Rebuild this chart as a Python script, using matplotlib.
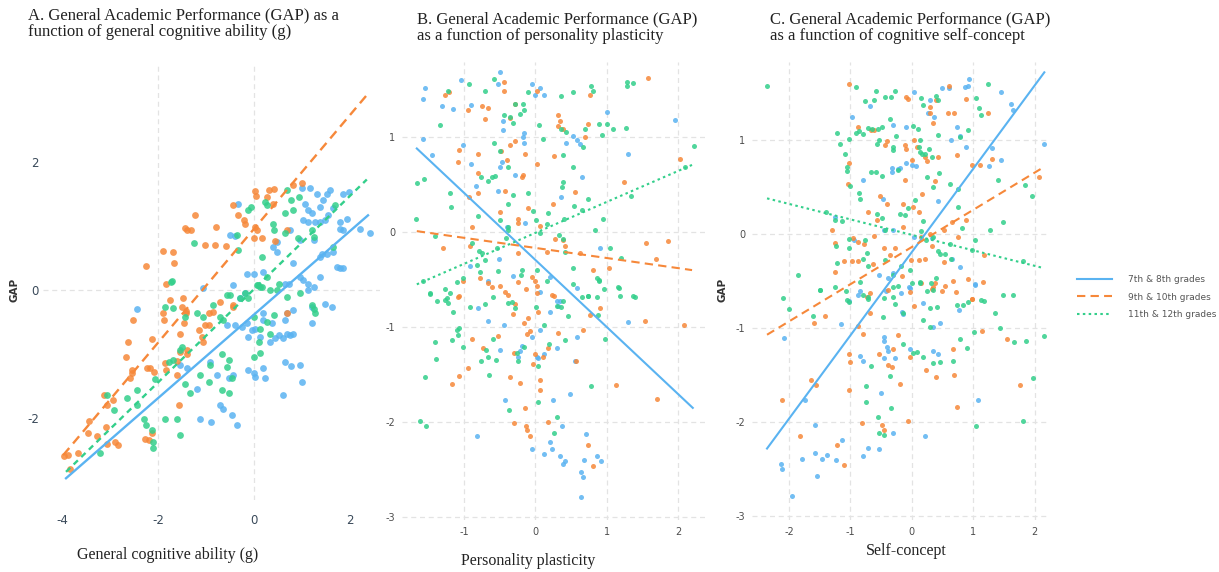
import matplotlib
matplotlib.use("Agg")
import matplotlib.pyplot as plt
from matplotlib.lines import Line2D
import numpy as np

plt.rcParams["axes.unicode_minus"] = False

# ---------------- data ----------------
groups = ["7th & 8th grades", "9th & 10th grades", "11th & 12th grades"]

# Panel A: GAP vs general cognitive ability (g)
A_g78 = [(-0.33,1.35),(-0.40,0.85),(-0.50,0.86),(0.99,1.59),(1.17,1.59),(1.31,1.51),(1.51,1.51),(1.58,1.56),
         (1.86,1.51),(1.97,1.54),(1.06,1.35),(1.13,1.25),(1.20,1.20),(1.375,1.30),(1.43,1.41),(1.55,1.17),
         (1.65,1.28),(1.03,1.09),(1.13,1.07),(1.27,1.07),(1.375,1.07),(1.48,1.09),(1.79,1.07),(1.93,1.12),
         (1.79,0.96),(1.86,0.94),(2.21,0.96),(2.42,0.90),(0.75,0.94),(0.96,0.78),(1.24,0.78),(0.47,0.76),
         (0.40,0.68),(0.47,0.60),(-0.15,0.25),(-0.01,0.25),(0.19,0.29),(0.82,0.42),(0.96,0.21),(0.65,0.10),
         (0.72,0.10),(1.03,0.16),(1.13,0.10),(1.375,0.21),(1.51,0.57),(1.65,0.60),(1.72,0.36),(1.79,0.34),
         (1.86,0.34),(1.375,0.52),(1.41,0.57),(1.13,0.00),(1.24,0.05),(-1.06,0.03),
         (-2.44,-0.30),(-0.43,0.08),(-0.19,-0.05),(-0.29,-0.13),(-0.57,-0.55),(-0.40,-0.55),(-0.26,-0.57),
         (-0.15,-0.52),(-0.05,-0.625),(0.02,-0.60),(0.19,-0.36),(0.19,-0.47),(0.37,-0.52),(0.65,-0.47),
         (0.68,-0.36),(0.81,-0.31),(1.20,-0.26),(1.20,-0.52),(1.48,-0.21),(1.62,-0.26),(-0.12,-0.73),
         (0.125,-0.73),(0.44,-0.755),(0.51,-0.70),(0.68,-0.68),(0.75,-0.70),(0.82,-0.68),(0.61,-0.755),
         (0.33,-0.81),(0.65,-1.12),(0.78,-1.19),(0.96,-1.17),(0.99,-1.43),(0.61,-1.64),(-0.12,-1.25),
         (-0.01,-1.30),(0.19,-1.22),(0.02,-1.35),(0.23,-1.38),(-0.43,-1.33),(-0.53,-1.38),(-0.78,-1.33),
         (-0.92,-1.12),(-1.19,-1.54),(-0.71,-1.80),(-0.64,-1.85),(-0.47,-1.95),(-0.36,-2.11),(-1.125,-2.01),
         (-0.90,-2.06),(-1.54,-1.17),(-1.40,-1.22)]
A_g910 = [(-2.26,0.375),(-1.89,0.61),(-1.68,0.59),(-1.66,0.42),(-1.84,0.10),(-1.44,0.97),(-1.40,0.94),
          (-1.32,0.94),(-1.23,1.17),(-0.79,0.99),(-1.02,0.71),(-0.81,0.71),(-0.58,0.69),(-0.43,1.33),
          (-0.33,1.17),(0.02,1.55),(0.04,1.48),(0.32,1.56),(0.42,1.58),(0.26,1.46),(0.40,1.35),(0.02,0.99),
          (0.06,0.94),(-0.01,0.82),(-0.19,1.04),(0.16,0.82),(0.68,0.94),(0.44,0.77),(0.82,1.64),(0.99,1.67),
          (-0.20,1.09),(-1.76,-0.15),(-1.89,-0.36),(-1.87,-0.46),(-1.49,-0.13),(-1.51,-0.26),(-1.42,-0.33),
          (-1.42,-0.36),(-1.47,-0.52),(-1.54,-0.68),(-2.53,-0.46),(-2.62,-0.81),(-2.67,-1.04),(-2.55,-1.25),
          (-2.55,-1.30),(-2.58,-1.38),(-2.24,-1.22),(-2.17,-1.22),(-2.13,-0.76),(-2.08,-1.28),(-1.84,-1.25),
          (-1.61,-1.33),(-1.56,-1.80),(-1.85,-1.14),(-1.60,-1.10),(-1.54,-0.96),(-1.40,-0.99),(-1.40,-0.94),
          (-1.14,-0.625),(-1.02,-0.55),(-0.93,-0.55),(-1.09,-0.73),(-1.06,-0.81),(-0.95,-0.36),(-0.71,-0.18),
          (-0.43,-0.23),(-0.43,-0.27),(0.68,-0.36),(-0.85,-0.34),(-3.12,-1.64),(-3.07,-1.80),(-2.94,-1.72),
          (-3.09,-2.14),(-3.28,-2.28),(-3.44,-2.05),(-3.68,-2.55),(-3.47,-2.23),(-2.83,-2.42),(-2.90,-2.37),
          (-3.06,-2.40),(-3.97,-2.59),(-3.87,-2.58),(-3.83,-2.80),(-2.27,-2.33),(-2.19,-2.34),(-2.13,-2.23)]
A_g1112 = [(-1.26,0.73),(-1.73,0.13),(-0.33,0.625),(-0.36,0.86),(-0.12,1.25),(-0.06,1.30),(0.23,1.38),
           (0.26,1.33),(0.68,1.56),(0.94,1.46),(0.78,1.41),(0.82,1.25),(0.65,1.20),(0.40,1.04),(0.42,0.94),
           (0.65,0.89),(0.92,0.81),(0.16,0.52),(0.26,0.21),(0.06,0.08),(0.33,0.00),(0.47,0.00),(0.16,0.05),
           (1.20,0.94),(1.24,0.83),(1.65,0.68),(1.69,1.33),
           (-1.72,0.15),(-1.85,-0.26),(-1.68,-0.28),(-1.44,-0.42),(-0.85,-0.23),(-1.19,-0.36),(-1.06,-0.42),
           (-0.71,-0.42),(-0.65,-0.46),(-0.57,-0.08),(-0.50,-0.08),(-0.29,-0.13),(-0.19,-0.05),(-0.12,-0.13),
           (0.09,0.08),(0.125,0.05),(0.51,0.10),(0.68,-0.10),(0.96,-0.05),(1.24,-0.29),(1.27,-0.36),
           (1.20,-0.23),(0.42,-0.39),(0.26,-0.49),(-0.01,-0.42),(0.125,-0.60),(0.33,-0.68),(0.11,-0.81),
           (0.125,-0.98),(-0.01,-1.04),(-0.67,-0.99),(-0.53,-1.09),(-0.57,-1.20),(-0.47,-1.38),(-0.53,-1.61),
           (-0.67,-1.56),(-0.95,-1.43),(-1.54,-0.94),(-1.51,-0.885),(-1.68,-1.09),(-1.78,-1.12),(-2.06,-1.39),
           (-2.44,-1.56),(-2.65,-1.68),(-2.44,-1.80),(-2.29,-2.01),(-2.26,-2.10),(-2.125,-2.19),(-2.11,-2.37),
           (-2.10,-2.47),(-1.85,-2.02),(-1.61,-2.01),(-1.54,-2.26),(-1.33,-1.61),(-1.44,-1.46),(-1.125,-1.33),
           (-0.92,-1.17),(-3.07,-1.64),(-2.93,-1.875),(-3.21,-2.55)]

# Panel B: GAP vs personality plasticity
B_g78 = [(-1.55,1.52),(-1.58,1.40),(-1.31,1.33),(-1.16,1.30),(-1.04,1.60),(-0.50,1.68),(-0.52,1.56),(-0.05,1.56),
         (0.06,1.52),(0.00,1.44),(0.12,1.44),(-0.90,1.34),(-0.45,1.17),(-0.45,1.07),(-0.16,1.04),(-0.17,1.00),
         (-0.16,0.94),(-1.58,0.98),(-1.02,0.92),(-1.45,0.81),(-0.90,0.72),(-0.47,0.74),(-0.50,0.69),(-0.29,0.60),
         (-0.52,0.43),(-0.83,0.48),(0.53,1.01),(0.58,0.97),(0.62,0.93),(0.42,0.94),(0.65,0.58),(0.36,0.37),
         (1.00,1.26),(1.30,0.82),(1.95,1.18),(-0.14,0.10),(-0.40,0.05),(0.90,-0.17),(-0.51,-0.28),(-0.31,-0.46),
         (-0.92,-0.36),(0.20,-0.47),(-0.66,-0.52),(0.30,-0.72),(0.34,-0.72),(0.06,-0.63),(-0.80,-0.80),
         (-0.67,-0.94),(-0.44,-0.98),(-0.05,-1.10),(0.06,-1.03),(0.20,-0.84),(0.32,-0.78),(0.58,-0.59),
         (-0.50,-1.24),(-0.19,-1.20),(-0.21,-1.25),(-0.25,-1.31),(0.02,-1.31),(0.04,-1.32),(0.12,-1.28),
         (0.30,-1.22),(0.58,-1.10),(0.55,-1.36),(1.30,-0.95),(-0.43,-1.77),(0.25,-1.77),(0.48,-1.70),
         (-0.82,-2.15),(-0.05,-2.28),(0.12,-2.34),(0.20,-2.21),(0.23,-2.28),(0.37,-2.04),(0.34,-2.36),
         (0.38,-2.44),(0.41,-2.41),(0.71,-2.13),(0.68,-2.40),(0.86,-2.36),(0.91,-2.41),(0.64,-2.52),
         (0.66,-2.58),(0.63,-2.79)]
B_g910 = [(-1.26,1.44),(-1.21,1.47),(-0.44,1.58),(-0.44,1.49),(-0.75,1.33),(-0.67,1.31),(-0.95,1.29),(-0.70,1.19),
          (-0.29,1.35),(-0.35,1.20),(0.02,1.48),(0.76,1.44),(0.32,1.23),(0.34,1.17),(0.32,1.12),(0.39,1.09),
          (0.74,1.14),(0.69,1.00),(-1.07,0.86),(-1.08,0.74),(-0.81,0.82),(-0.81,0.62),(-0.81,0.41),(-0.93,0.37),
          (-0.43,0.43),(-0.36,0.92),(-0.29,0.96),(-0.48,0.85),(-0.40,0.76),(0.02,0.72),(0.26,0.80),(-0.15,0.82),
          (-0.18,0.60),(-0.19,0.58),(0.55,0.42),(0.25,0.30),(-0.11,0.25),(-0.50,0.21),(-0.25,0.14),(-0.24,0.10),
          (-0.89,0.05),(-1.29,-0.17),(-0.92,-0.15),(-0.78,-0.48),(-0.66,-0.54),(-0.61,-0.58),(-1.07,-0.67),
          (0.06,0.06),(0.16,-0.21),(0.38,-0.08),(0.41,-0.15),(0.62,-0.22),(1.24,0.53),(1.55,-0.12),(1.85,-0.09),
          (1.69,-0.28),(1.03,-0.38),(2.02,0.77),(1.58,1.62),(0.27,-0.07),(0.81,-0.40),(-0.05,-0.47),
          (-0.25,-0.22),(0.02,-0.57),(0.26,-0.67),(-1.02,-0.52),(-0.50,-0.57),(-0.43,-0.63),(-0.38,-0.66),
          (-0.24,-0.53),(-0.13,-0.60),(0.02,-0.64),(0.23,-0.66),(-0.01,-0.52),(-1.08,-0.68),(-0.29,-0.76),
          (-0.32,-0.86),(-0.10,-0.90),(0.03,-0.84),(-0.16,-0.96),(-0.08,-1.04),(-0.12,-1.07),(-0.53,-1.09),
          (-0.89,-1.12),(-0.73,-1.22),(-0.30,-1.27),(-0.01,-1.28),(0.11,-1.31),(0.18,-1.22),(0.32,-1.06),
          (0.67,-1.03),(0.76,-0.87),(0.90,-0.80),(0.57,-1.36),(-0.03,-1.39),(-0.95,-1.43),(-1.07,-1.51),
          (-1.17,-1.60),(-0.36,-1.53),(-0.22,-1.59),(0.06,-1.56),(0.06,-1.66),(-0.15,-1.85),(-0.30,-2.01),
          (-0.13,-2.04),(-0.12,-2.08),(0.17,-2.00),(-0.08,-2.15),(0.73,-2.24),(0.80,-2.46),(1.13,-1.61),
          (1.53,-0.94),(2.08,-0.98),(1.70,-1.76)]
B_g1112 = [(-0.93,1.56),(-1.22,1.48),(-0.58,1.61),(-0.71,1.49),(-0.11,1.47),(0.35,1.43),(0.53,1.47),(0.78,1.54),
           (0.81,1.48),(1.28,1.58),(1.28,1.54),(1.37,1.57),(-1.34,1.13),(-0.29,1.35),(-0.17,1.35),(-0.16,1.28),
           (-0.22,1.24),(-0.31,1.15),(-0.36,1.21),(-0.44,1.23),(0.05,1.13),(0.11,0.98),(0.36,1.08),(0.42,1.05),
           (0.39,0.81),(0.53,0.69),(0.69,1.08),(0.89,1.14),(1.00,1.14),(1.08,1.09),(1.26,1.10),(0.93,1.02),
           (0.66,0.90),(-0.58,0.94),(-0.50,0.85),(-0.61,0.58),(-0.38,0.69),(-0.66,0.54),(-0.56,0.59),(-0.76,0.58),
           (-1.20,0.41),(-1.18,0.26),(-1.66,0.52),(-1.56,0.56),(-1.67,0.14),(-0.80,0.17),(-0.49,0.13),(-0.38,0.30),
           (-0.31,0.39),(-0.11,0.41),(0.37,0.47),(0.39,0.53),(0.74,0.35),(0.65,0.23),(0.18,0.20),(-0.04,0.22),
           (0.01,0.13),(0.40,0.14),(0.54,0.27),(1.34,0.38),(2.09,0.69),(2.22,0.91),(-1.41,-0.04),(-0.89,-0.12),
           (-0.79,-0.20),(-0.70,-0.29),(-0.75,-0.22),(-0.82,-0.35),(-0.54,-0.17),(-0.38,0.05),(-0.39,0.02),
           (-0.41,-0.06),(0.06,-0.01),(0.16,0.08),(0.33,-0.03),(0.39,-0.07),(0.41,-0.21),(0.53,-0.38),(0.94,0.14),
           (0.83,0.02),(1.04,-0.17),(1.19,-0.27),(1.16,-0.58),(1.37,-0.67),(0.86,-0.48),(0.89,-0.50),(-0.19,-0.40),
           (-0.20,-0.45),(0.02,-0.40),(-0.53,-0.41),(-1.10,-0.53),(-0.78,-0.42),(-1.02,-0.48),(-1.48,-0.64),
           (-1.27,-0.60),(-1.20,-0.64),(0.65,-0.68),(0.73,-0.67),(0.96,-0.60),(-1.57,-0.52),(-1.48,-0.65),
           (-1.38,-0.72),(-1.26,-0.71),(-1.23,-0.75),(-1.24,-0.69),(-1.15,-0.84),(-0.92,-0.79),(-0.71,-0.76),
           (-0.60,-0.68),(-0.33,-0.74),(-0.39,-0.75),(-0.28,-0.80),(0.01,-0.79),(0.16,-0.52),(0.30,-0.78),
           (0.35,-0.79),(0.38,-0.72),(0.46,-0.88),(0.52,-0.55),(0.73,-0.67),(0.86,-0.68),(0.87,-0.87),(1.17,-0.59),
           (1.18,-0.67),(1.39,-0.68),(0.89,-0.52),(0.12,-0.98),(0.41,-1.14),(0.19,-1.18),(0.97,-1.13),(0.78,-1.62),
           (-1.41,-1.16),(-1.17,-1.14),(-1.10,-1.03),(-1.09,-1.08),(-1.07,-1.01),(-1.39,-1.34),(-1.02,-1.21),
           (-0.76,-1.36),(-0.66,-1.31),(-0.69,-1.24),(-0.60,-1.13),(-0.55,-1.35),(-0.26,-1.27),(-0.25,-1.36),
           (-0.16,-1.21),(0.04,-1.41),(0.03,-1.79),(-1.55,-1.53),(-0.65,-1.50),(-0.37,-1.87),(0.30,-1.95),
           (0.26,-2.11),(-1.62,-1.99),(-1.53,-2.04)]

# Panel C: GAP vs cognitive self-concept
C_g78 = [(0.04,1.51),(0.30,1.43),(0.49,1.55),(0.61,1.55),(0.87,1.56),(0.94,1.65),(0.91,1.57),(1.46,1.51),
         (1.62,1.38),(1.65,1.32),(-0.98,1.25),(-0.68,1.36),(-0.30,1.16),(-0.10,1.14),(0.27,1.29),(0.36,1.24),
         (0.73,1.14),(0.64,1.00),(0.79,1.04),(0.89,0.93),(1.30,0.92),(1.45,0.79),(1.26,0.72),(2.15,0.96),
         (0.07,0.72),(-0.09,0.76),(0.00,0.73),(-0.33,0.66),(-0.33,0.70),(-0.22,0.69),(-0.19,0.70),(-0.80,0.57),
         (-0.47,0.37),(-1.25,0.18),(-0.95,-0.06),(-0.46,0.04),(-0.31,0.04),(0.03,-0.03),(0.33,-0.04),(0.42,0.35),
         (0.65,-0.26),(0.78,-0.35),(1.03,-0.54),(-0.53,-0.44),(-0.38,-0.47),(-0.30,-0.41),(-0.42,-0.60),
         (-0.04,-0.56),(-0.17,-0.63),(-0.85,-0.60),(-1.03,-0.71),(-0.87,-0.65),(-1.15,-0.96),(-2.09,-1.10),
         (-0.16,-0.83),(-0.15,-0.85),(-0.03,-0.57),(0.19,-0.73),(0.35,-0.99),(0.46,-0.94),(0.77,-0.81),
         (1.03,-0.53),(-0.46,-1.09),(-0.45,-1.14),(-0.40,-1.20),(-0.38,-1.24),(-0.45,-1.32),(-0.27,-1.32),
         (-0.03,-1.22),(0.34,-1.24),(0.42,-1.28),(-0.85,-1.30),(-0.80,-1.35),(-0.50,-1.69),(-1.74,-1.76),
         (1.08,-1.76),(-1.58,-2.03),(-0.30,-2.12),(0.22,-2.15),(-2.13,-2.44),(-2.11,-2.50),(-1.79,-2.39),
         (-1.58,-2.33),(-1.54,-2.57),(-1.47,-2.39),(-1.39,-2.35),(-1.23,-2.40),(-1.14,-2.19),(-0.79,-2.36),
         (-0.71,-2.27),(-0.53,-2.28),(-1.96,-2.78)]
C_g910 = [(-1.02,1.60),(-0.10,1.46),(-0.07,1.44),(0.29,1.35),(0.30,1.29),(0.35,1.18),(0.40,1.43),(0.59,1.29),
          (0.68,1.29),(0.60,1.57),(0.89,1.44),(1.25,1.29),(-0.87,1.14),(-0.67,1.11),(-0.61,1.11),(-0.43,0.95),
          (-0.41,0.99),(-0.11,0.95),(-0.10,0.91),(0.01,0.79),(0.09,0.93),(0.03,1.00),(0.22,0.82),(0.24,0.78),
          (0.42,0.82),(0.73,0.84),(0.98,0.73),(1.11,0.73),(1.30,0.80),(2.07,0.61),(-1.02,0.76),(-1.04,0.53),
          (-0.52,0.41),(-0.41,0.32),(-0.15,0.32),(-0.11,0.57),(0.38,0.56),(0.17,0.43),(0.02,0.29),(0.11,0.24),
          (-0.71,0.24),(-0.57,0.15),(-1.30,0.04),(-1.25,-0.09),(-0.96,-0.04),(-0.88,-0.08),(-0.78,-0.11),
          (-0.61,-0.02),(-0.45,-0.15),(-0.28,-0.15),(-0.14,0.08),(0.15,-0.03),(0.30,0.00),(0.33,-0.13),(0.52,0.04),
          (0.65,0.13),(0.76,-0.03),(0.89,0.15),(1.17,-0.22),(-1.10,-0.29),(-0.97,-0.29),(-0.87,-0.29),
          (-0.63,-0.32),(-0.36,-0.22),(-0.16,-0.45),(-0.01,-0.28),(0.12,-0.28),(0.22,-0.26),(0.35,-0.56),
          (0.53,-0.30),(0.92,-0.48),(0.98,-0.69),(-1.25,-0.40),(-0.73,-0.67),(-0.68,-0.63),(-0.38,-0.59),
          (-0.03,-0.62),(0.03,-0.76),(0.15,-0.525),(0.33,-0.58),(0.38,-0.52),(0.49,-0.60),(0.54,-0.55),
          (0.67,-0.50),(0.72,-0.62),(0.98,-0.69),(1.16,-0.51),(-0.68,-0.84),(-1.42,-0.87),(-1.60,-0.95),
          (-0.87,-0.98),(-0.79,-1.06),(-1.03,-1.27),(-1.01,-1.36),(-0.54,-1.28),(-0.38,-1.39),(-0.33,-1.41),
          (-0.30,-1.22),(-0.20,-1.59),(-0.22,-1.07),(-0.03,-1.31),(0.23,-1.44),(0.39,-1.52),(0.67,-1.22),
          (0.69,-1.50),(1.14,-1.03),(1.55,-1.12),(1.77,-1.60),(0.73,-1.84),(-1.03,-1.66),(-1.64,-1.55),
          (-1.56,-1.60),(-2.11,-1.76),(-1.82,-2.15),(-1.22,-2.24),(-1.10,-2.45),(-0.82,-2.01),(-0.49,-2.03),
          (-0.46,-2.08),(-0.07,-1.99)]
C_g1112 = [(-2.36,1.57),(-0.91,1.56),(-0.58,1.52),(-0.43,1.46),(-0.34,1.46),(-0.28,1.52),(-0.76,1.41),(-0.61,1.43),
           (-1.22,1.08),(-1.17,0.96),(-1.09,0.85),(-1.02,1.01),(-1.06,0.71),(-1.05,0.67),(-0.91,1.08),(-0.86,1.10),
           (-0.79,1.06),(-0.71,1.13),(-0.65,1.12),(-0.55,1.12),(-0.49,1.14),(-0.53,1.00),(-0.56,0.96),(-0.31,0.93),
           (-0.30,0.89),(-0.35,1.22),(-0.26,1.04),(-0.23,0.68),(-0.49,0.62),(-0.59,0.66),(-0.67,0.66),(0.02,1.15),
           (0.10,1.12),(0.14,1.00),(0.11,0.93),(0.14,0.87),(0.16,0.85),(0.22,0.85),(0.15,1.45),(0.19,1.37),
           (0.28,0.91),(0.33,0.82),(0.40,1.47),(0.43,1.43),(0.42,1.05),(0.45,0.65),(0.24,0.61),(0.35,0.50),
           (0.63,0.53),(0.76,0.48),(0.79,1.03),(0.91,1.11),(1.05,1.45),(1.09,1.34),(1.13,1.27),(1.24,1.60),
           (1.41,0.57),(1.84,0.52),(1.96,0.41),(-1.01,0.51),(-0.86,0.44),(-0.84,0.37),(-0.57,0.21),(-0.49,0.17),
           (-0.43,0.04),(-0.19,0.21),(-0.11,0.20),(-0.07,0.28),(0.05,0.36),(0.15,0.03),(0.19,0.14),(0.23,-0.06),
           (0.35,-0.03),(0.42,-0.18),(0.46,-0.21),(0.54,-0.21),(0.63,-0.10),(0.64,-0.26),(0.76,0.29),(0.82,0.07),
           (0.98,-0.17),(1.03,-0.06),(1.27,0.04),(1.49,0.13),(1.82,-0.29),(1.65,-0.65),(-1.40,0.23),(-1.25,0.15),
           (-1.13,0.14),(-1.03,-0.05),(-1.02,-0.15),(-1.23,-0.13),(-1.22,-0.31),(-0.76,-0.06),(-0.73,-0.20),
           (-0.79,-0.26),(-0.72,-0.34),(-0.43,-0.28),(-0.30,-0.43),(-0.18,-0.34),(-0.03,-0.38),(0.00,-0.52),
           (0.14,-0.51),(0.32,-0.52),(0.40,-0.47),(-1.85,-0.44),(-1.49,-0.59),(-1.25,-0.56),(-1.08,-0.60),
           (-0.30,-0.56),(-2.10,-0.68),(-2.01,-0.80),(-1.61,-0.87),(-1.49,-0.59),(-1.06,-0.70),(-1.02,-0.72),
           (-0.84,-0.51),(-0.80,-0.65),(-0.72,-0.67),(-0.71,-0.69),(-0.47,-0.88),(-0.45,-0.68),(-0.30,-0.67),
           (-0.27,-0.74),(-0.23,-0.55),(-0.15,-0.84),(0.14,-0.52),(0.24,-0.60),(0.34,-0.59),(0.30,-0.79),
           (0.19,-0.91),(0.41,-0.78),(0.30,-0.99),(0.74,-0.75),(0.91,-0.72),(0.84,-0.75),(1.13,-0.70),(1.17,-0.71),
           (1.36,-0.84),(1.02,-1.04),(1.43,-1.00),(0.79,-1.12),(0.90,-1.21),(1.67,-1.15),(1.86,-1.14),(2.16,-1.08),
           (1.97,-1.53),(1.81,-1.99),(1.05,-2.04),(0.02,-1.26),(0.09,-1.25),(0.19,-1.31),(0.34,-1.37),(0.46,-1.36),
           (0.67,-1.35),(-0.67,-1.40),(-0.36,-1.51),(-0.74,-1.62),(-0.74,-1.78),(-0.34,-1.85),(-0.55,-1.94),
           (-0.54,-2.11),(-0.45,-2.14),(1.49,-0.65),(-0.14,-1.17)]

# fitted lines: (x_start, x_end, y_start, y_end)
A_lines = [(-3.92, 2.375, -2.94, 1.17), (-3.98, 2.35, -2.58, 3.05), (-3.92, 2.35, -2.84, 1.73)]
B_lines = [(-1.66, 2.20, 0.88, -1.85), (-1.66, 2.19, 0.01, -0.40), (-1.66, 2.23, -0.55, 0.72)]
C_lines = [(-2.36, 2.16, -2.28, 1.72), (-2.36, 2.12, -1.07, 0.70), (-2.36, 2.14, 0.38, -0.36)]

titles = ["A. General Academic Performance (GAP) as a\nfunction of general cognitive ability (g)",
          "B. General Academic Performance (GAP)\nas a function of personality plasticity",
          "C. General Academic Performance (GAP)\nas a function of cognitive self-concept"]
xlabels = ["General cognitive ability (g)", "Personality plasticity", "Self-concept"]
A_xticks = [-4, -2, 0, 2]
A_yticks = [-2, 0, 2]
A_gridx = [-2, 0]
A_gridy = [0]
B_xticks = [-1, 0, 1, 2]
C_xticks = [-2, -1, 0, 1, 2]
BC_yticks = [-3, -2, -1, 0, 1]

# ---------------- style ----------------
colors = ["#5AB3F1", "#F6883A", "#33CF8B"]
styles_A = ["-", (0, (4, 2.5)), (0, (2.5, 2))]
styles_BC = ["-", (0, (4, 2.5)), (0, (1.2, 1.6))]
W, H = 1219, 572
fig = plt.figure(figsize=(W / 100, H / 100), dpi=100)
SERIF = ["Liberation Serif", "DejaVu Serif"]
GRID = dict(color="#e3e3e3", lw=0.9, ls=(0, (4, 3)), zorder=0)


def ax_at(l, t, r, b):
    return fig.add_axes([l / W, 1 - b / H, (r - l) / W, (b - t) / H])


def base(ax):
    for s in ax.spines.values():
        s.set_visible(False)
    ax.set_facecolor("none")


# Panel A
axA = ax_at(43, 65, 380, 500)
base(axA)
axA.set_xlim(-4.40, 2.625)
axA.set_ylim(-3.28, 3.52)
for gx in A_gridx:
    axA.axvline(gx, **GRID)
for gy in A_gridy:
    axA.axhline(gy, **GRID)
for pts, c in zip([A_g78, A_g910, A_g1112], colors):
    p = np.array(pts)
    axA.scatter(p[:, 0], p[:, 1], s=24, color=c, alpha=0.85, lw=0, zorder=2)
for (x0, x1, y0, y1), c, st in zip(A_lines, colors, styles_A):
    axA.plot([x0, x1], [y0, y1], color=c, ls=st, lw=1.7, zorder=3)
axA.set_xticks(A_xticks)
axA.set_yticks(A_yticks)
axA.tick_params(length=0, labelsize=8.5, labelcolor="#3a4a5a")
axA.tick_params(axis="x", pad=10)
axA.tick_params(axis="y", pad=3)

# Panels B and C
axB = ax_at(402, 62, 706, 520)
axC = ax_at(752, 62, 1048, 520)
for ax, data, lines, xt, xlim, ylim in [
        (axB, [B_g78, B_g910, B_g1112], B_lines, B_xticks, (-1.867, 2.385), (-3.03, 1.79)),
        (axC, [C_g78, C_g910, C_g1112], C_lines, C_xticks, (-2.605, 2.22), (-3.04, 1.83))]:
    base(ax)
    ax.set_xlim(*xlim)
    ax.set_ylim(*ylim)
    ax.set_xticks(xt)
    ax.set_yticks(BC_yticks)
    ax.grid(True, **{k: v for k, v in GRID.items() if k != "zorder"})
    ax.set_axisbelow(True)
    for pts, c in zip(data, colors):
        p = np.array(pts)
        ax.scatter(p[:, 0], p[:, 1], s=13, color=c, alpha=0.85, lw=0, zorder=2)
    for (x0, x1, y0, y1), c, st in zip(lines, colors, styles_BC):
        ax.plot([x0, x1], [y0, y1], color=c, ls=st, lw=1.5, zorder=3)
    ax.tick_params(length=0, labelsize=7, labelcolor="#4d4d4d", pad=5)

# titles
fig.text(28 / W, 1 - 7 / H, titles[0], fontfamily=SERIF, fontsize=12, va="top", ha="left",
         linespacing=1.12, color="#222222")
fig.text(417 / W, 1 - 11 / H, titles[1], fontfamily=SERIF, fontsize=12, va="top", ha="left",
         linespacing=1.12, color="#222222")
fig.text(770 / W, 1 - 11 / H, titles[2], fontfamily=SERIF, fontsize=12, va="top", ha="left",
         linespacing=1.12, color="#222222")

# x labels
fig.text(168 / W, 1 - 555 / H, xlabels[0], fontfamily=SERIF, fontsize=11.5, ha="center", va="center",
         color="#222222")
fig.text(528 / W, 1 - 561 / H, xlabels[1], fontfamily=SERIF, fontsize=11.5, ha="center", va="center",
         color="#222222")
fig.text(906 / W, 1 - 551 / H, xlabels[2], fontfamily=SERIF, fontsize=11.5, ha="center", va="center",
         color="#222222")

# y labels
fig.text(15 / W, 1 - 290 / H, "GAP", rotation=90, fontsize=7.5, fontweight="bold", ha="center",
         va="center", color="#333333")
fig.text(722 / W, 1 - 290 / H, "GAP", rotation=90, fontsize=7.5, fontweight="bold", ha="center",
         va="center", color="#333333")

# legend
handles = [Line2D([0], [0], color=c, ls=st, lw=1.5) for c, st in zip(colors, styles_BC)]
leg = fig.legend(handles, groups, loc="center left", bbox_to_anchor=(1077 / W, 1 - 297 / H),
                 frameon=False, fontsize=6.5, handlelength=3.9, handletextpad=1.7,
                 labelspacing=0.95, borderpad=0, borderaxespad=0)
for t in leg.get_texts():
    t.set_color("#555555")

fig.savefig("out.png", dpi=100)
